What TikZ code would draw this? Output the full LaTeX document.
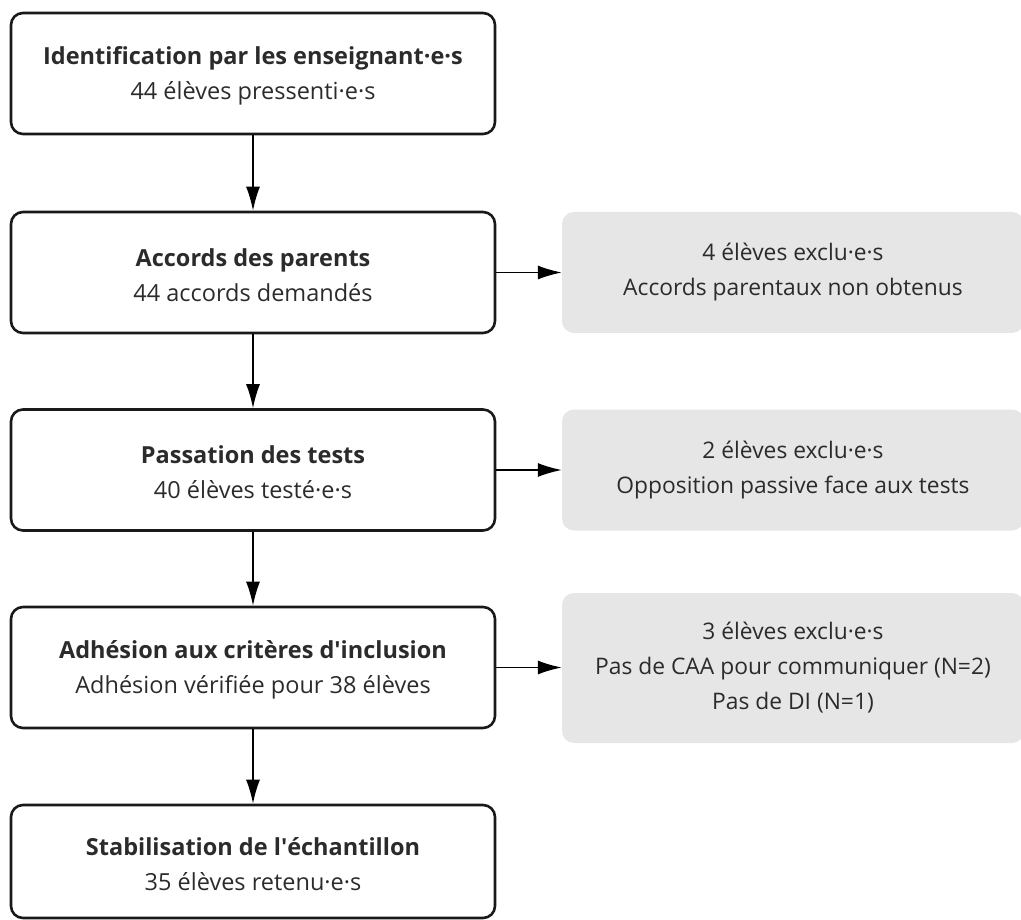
\documentclass[tikz,border=0pt]{standalone}
\usepackage{fontspec}
\setmainfont{Open Sans}
\usepackage{tikz}
\usetikzlibrary{arrows.meta}
\usetikzlibrary{positioning}
\definecolor{txt}{HTML}{2B2B2B}
\definecolor{greybox}{HTML}{E6E6E6}
\newcommand{\toplift}{\rule{0pt}{23pt}}
\tikzset{every picture/.style={x=1pt,y=-1pt},
stage/.style={draw=black!90,line width=2.6pt,rounded corners=12pt,minimum width=484pt,minimum height=121pt,align=center,text=txt,font=\fontsize{23.5}{35}\selectfont},
excl/.style={fill=greybox,rounded corners=12pt,minimum width=462pt,minimum height=121pt,align=center,text=txt,font=\fontsize{22.8}{35}\selectfont},
flow/.style={line width=1.5pt,-{Latex[length=24pt,width=14pt]}}}

\begin{document}
\begin{tikzpicture}
\useasboundingbox (0,0) rectangle (1021,920);
\foreach \x / \y / \a / \b in {1/73.5/{Identification par les enseignant·e·s}/{44 élèves pressenti·e·s},2/272.5/{Accords des parents}/{44 accords demandés},3/470/{Passation des tests}/{40 élèves testé·e·s},4/667.5/{Adhésion aux critères d\textquotesingle inclusion}/{Adhésion vérifiée pour 38 élèves}} {
\node (s\x) at (253,\y) [stage] {\toplift\textbf{\a}\\\b};
}
\node (s5) at (253,861.5) [stage,minimum height=113pt] {\toplift\textbf{Stabilisation de l\textquotesingle échantillon}\\35 élèves retenu·e·s};
%exclusions
\node (e2) at (793,272.5) [excl] {4 élèves exclu·e·s\\Accords parentaux non obtenus};
\node (e3) at (793,470) [excl] {2 élèves exclu·e·s\\Opposition passive face aux tests};
\node (e4) at (793,668) [excl,minimum height=150pt] {3 élèves exclu·e·s\\Pas de CAA pour communiquer (N=2)\\Pas de DI (N=1)};
\foreach \x / \y in {1/2,2/3,3/4,4/5} {
\draw[flow] (s\x) -- (s\y);
}
\foreach \x in {2,3,4} {
\draw[flow] (s\x.east) -- (s\x.east -| e\x.west);
}
\end{tikzpicture}
\end{document}
